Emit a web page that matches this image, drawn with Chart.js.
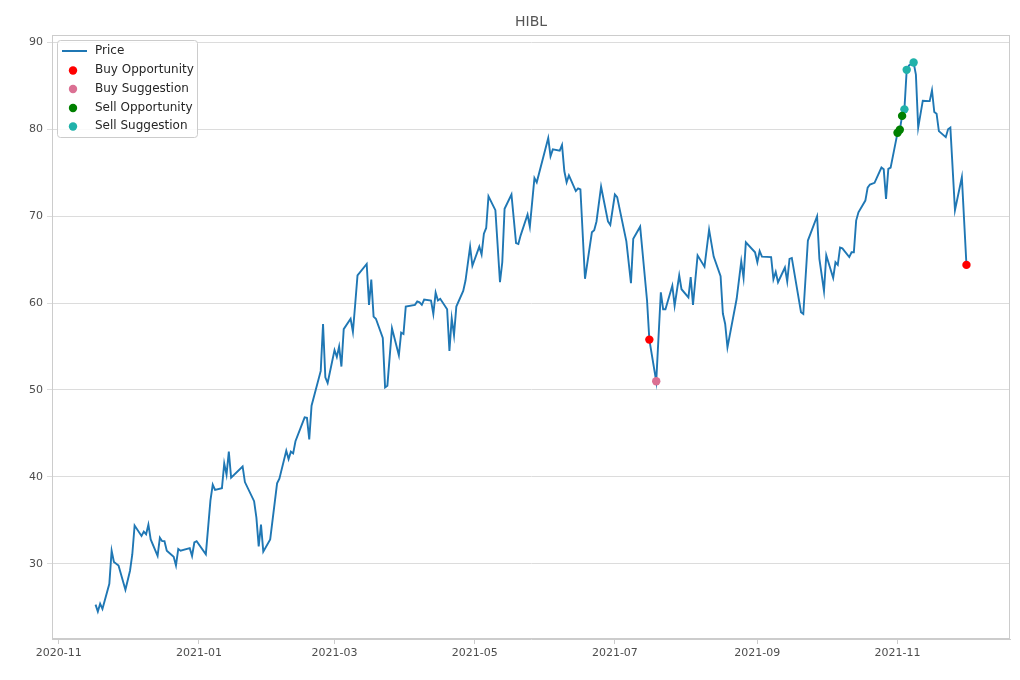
<!DOCTYPE html>
<html>
<head>
<meta charset="utf-8">
<script src="https://cdn.jsdelivr.net/npm/chart.js@4/dist/chart.umd.min.js"></script>
<style>
html,body{margin:0;padding:0;background:#fff;}
#wrap{width:1020px;height:680px;}
</style>
</head>
<body>
<div id="wrap"><canvas id="c" width="1020" height="680"></canvas></div>
<script>
const title = 'HIBL';
const dates = ['2020-11-17','2020-11-18','2020-11-19','2020-11-20','2020-11-23','2020-11-24','2020-11-25','2020-11-27','2020-11-30',
'2020-12-02','2020-12-03','2020-12-04','2020-12-07','2020-12-08','2020-12-09','2020-12-10','2020-12-11','2020-12-14','2020-12-15','2020-12-16','2020-12-17','2020-12-18','2020-12-21','2020-12-22','2020-12-23','2020-12-24','2020-12-28','2020-12-29','2020-12-30','2020-12-31',
'2021-01-04','2021-01-06','2021-01-07','2021-01-08','2021-01-11','2021-01-12','2021-01-13','2021-01-14','2021-01-15','2021-01-20','2021-01-21','2021-01-25','2021-01-26','2021-01-27','2021-01-28','2021-01-29',
'2021-02-01','2021-02-04','2021-02-05','2021-02-08','2021-02-09','2021-02-10','2021-02-11','2021-02-12','2021-02-16','2021-02-17','2021-02-18','2021-02-19','2021-02-23','2021-02-24','2021-02-25','2021-02-26',
'2021-03-01','2021-03-02','2021-03-03','2021-03-04','2021-03-05','2021-03-08','2021-03-09','2021-03-10','2021-03-11','2021-03-15','2021-03-16','2021-03-17','2021-03-18','2021-03-19','2021-03-22','2021-03-23','2021-03-24','2021-03-26','2021-03-29','2021-03-30','2021-03-31',
'2021-04-01','2021-04-05','2021-04-06','2021-04-07','2021-04-08','2021-04-09','2021-04-12','2021-04-13','2021-04-14','2021-04-15','2021-04-16','2021-04-19','2021-04-20','2021-04-21','2021-04-22','2021-04-23','2021-04-26','2021-04-27','2021-04-29','2021-04-30',
'2021-05-03','2021-05-04','2021-05-05','2021-05-06','2021-05-07','2021-05-10','2021-05-12','2021-05-13','2021-05-14','2021-05-17','2021-05-19','2021-05-20','2021-05-21','2021-05-24','2021-05-25','2021-05-27','2021-05-28',
'2021-06-02','2021-06-03','2021-06-04','2021-06-07','2021-06-08','2021-06-09','2021-06-10','2021-06-11','2021-06-14','2021-06-15','2021-06-16','2021-06-18','2021-06-21','2021-06-22','2021-06-23','2021-06-25','2021-06-28','2021-06-29',
'2021-07-01','2021-07-02','2021-07-06','2021-07-08','2021-07-09','2021-07-12','2021-07-15','2021-07-16','2021-07-19','2021-07-21','2021-07-22','2021-07-23','2021-07-26','2021-07-27','2021-07-29','2021-07-30',
'2021-08-02','2021-08-03','2021-08-04','2021-08-06','2021-08-09','2021-08-11','2021-08-13','2021-08-16','2021-08-17','2021-08-18','2021-08-19','2021-08-23','2021-08-25','2021-08-26','2021-08-27','2021-08-31',
'2021-09-01','2021-09-02','2021-09-03','2021-09-07','2021-09-08','2021-09-09','2021-09-10','2021-09-13','2021-09-14','2021-09-15','2021-09-16','2021-09-20','2021-09-21','2021-09-23','2021-09-27','2021-09-28','2021-09-30',
'2021-10-01','2021-10-04','2021-10-05','2021-10-06','2021-10-07','2021-10-08','2021-10-11','2021-10-12','2021-10-13','2021-10-14','2021-10-15','2021-10-18','2021-10-19','2021-10-20','2021-10-22','2021-10-25','2021-10-26','2021-10-27','2021-10-28','2021-10-29',
'2021-11-01','2021-11-02','2021-11-03','2021-11-04','2021-11-05','2021-11-06','2021-11-08','2021-11-09','2021-11-10','2021-11-12','2021-11-15','2021-11-16','2021-11-17','2021-11-18','2021-11-19','2021-11-22','2021-11-23','2021-11-24','2021-11-26','2021-11-29',
'2021-12-01'];
const prices = [25.3,24.5,25.4,24.8,27.7,31.5,30.2,29.8,27.0,
29.2,31.1,34.4,33.2,33.7,33.4,34.5,32.8,30.9,33.0,32.6,32.6,31.5,30.8,29.8,31.7,31.5,31.8,30.9,32.45,32.6,
31.1,37.3,39.1,38.5,38.7,41.55,40.25,42.9,39.9,41.2,39.4,37.2,35.3,32.0,34.5,31.4,
32.8,39.25,39.8,43.0,42.05,42.9,42.7,44.1,46.85,46.8,44.3,48.2,52.2,57.6,51.45,50.8,
54.6,53.8,55.0,52.7,57.0,58.2,56.7,59.9,63.2,64.5,59.8,62.7,58.45,58.2,56.0,50.3,50.5,57.1,54.0,56.6,56.45,
59.6,59.8,60.2,60.1,59.8,60.4,60.3,58.75,61.2,60.3,60.5,59.3,54.5,58.25,56.3,59.6,61.4,62.6,66.5,64.3,
66.5,65.6,68.0,68.65,72.3,70.7,62.4,64.7,70.85,72.5,66.9,66.8,67.8,70.2,68.8,74.4,73.9,
79.0,76.9,77.7,77.55,78.2,75.2,73.9,74.7,72.9,73.2,73.1,62.8,68.15,68.4,69.4,73.4,69.4,69.0,
72.5,72.2,67.1,62.3,67.4,68.8,60.3,55.8,51.0,61.25,59.3,59.3,62.0,59.7,63.2,61.6,
60.65,63.0,59.8,65.5,64.2,68.45,65.35,63.1,58.8,57.6,54.9,60.5,64.8,62.9,67.0,65.85,
64.7,66.0,65.35,65.3,62.75,63.6,62.4,64.1,62.5,65.1,65.2,58.95,58.75,67.2,70.0,65.1,61.4,
65.5,62.9,64.7,64.4,66.4,66.3,65.3,65.85,65.85,69.5,70.45,71.8,73.3,73.65,73.85,75.6,75.4,72.0,75.45,75.6,
79.6,79.95,81.55,82.3,86.85,87.35,87.7,86.3,80.2,83.3,83.25,84.5,82.0,81.8,79.8,79.1,80.0,80.2,70.7,74.5,
64.4];

const buyOppDates = ['2021-07-16','2021-12-01'];
const buyOppPrices = [55.8,64.4];
const buySugDates = ['2021-07-19'];
const buySugPrices = [51.0];
const sellOppDates = ['2021-11-01','2021-11-02','2021-11-03'];
const sellOppPrices = [79.6,79.95,81.55];
const sellSugDates = ['2021-11-04','2021-11-05','2021-11-08'];
const sellSugPrices = [82.3,86.85,87.7];

const xTickDates = ['2020-11-01','2021-01-01','2021-03-01','2021-05-01','2021-07-01','2021-09-01','2021-11-01'];
const yTicks = [30,40,50,60,70,80,90];

const seriesNames = ['Price','Buy Opportunity','Buy Suggestion','Sell Opportunity','Sell Suggestion'];
const seriesColors = ['#1f77b4','#ff0000','#db7093','#008000','#20b2aa'];

// ---- helpers ----
const EPOCH = Date.UTC(2020,10,1);
function dayNum(s){ const p=s.split('-').map(Number); return (Date.UTC(p[0],p[1]-1,p[2])-EPOCH)/864e5; }
function dayLabel(v){ const d=new Date(EPOCH+v*864e5); return d.getUTCFullYear()+'-'+String(d.getUTCMonth()+1).padStart(2,'0'); }
function pts(ds,ps){ return ds.map((d,i)=>({x:dayNum(d),y:ps[i]})); }

const xs = dates.map(dayNum);
const xMin0 = Math.min(...xs), xMax0 = Math.max(...xs);
const yMin0 = Math.min(...prices), yMax0 = Math.max(...prices);
const xr = xMax0-xMin0, yr = yMax0-yMin0;

Chart.defaults.font.family = "'DejaVu Sans', sans-serif";

const frameLegend = {
  id:'frameLegend',
  afterDraw(chart){
    const ctx = chart.ctx, a = chart.chartArea;
    ctx.save();
    ctx.strokeStyle = '#cccccc'; ctx.lineWidth = 1;
    ctx.strokeRect(Math.round(a.left)+0.5, Math.round(a.top)+0.5, Math.round(a.right-a.left)-1, Math.round(a.bottom-a.top)-1);
    // title, centred over the plot area
    ctx.fillStyle = '#555555'; ctx.font = "14px 'DejaVu Sans'";
    ctx.textAlign = 'center'; ctx.textBaseline = 'middle';
    ctx.fillText(title, (a.left+a.right)/2, 22);
    // legend
    const lx = a.left+5.5, ly = a.top+5.5, lw = 140, lh = 97, r = 3;
    ctx.beginPath();
    ctx.moveTo(lx+r,ly); ctx.lineTo(lx+lw-r,ly); ctx.quadraticCurveTo(lx+lw,ly,lx+lw,ly+r);
    ctx.lineTo(lx+lw,ly+lh-r); ctx.quadraticCurveTo(lx+lw,ly+lh,lx+lw-r,ly+lh);
    ctx.lineTo(lx+r,ly+lh); ctx.quadraticCurveTo(lx,ly+lh,lx,ly+lh-r);
    ctx.lineTo(lx,ly+r); ctx.quadraticCurveTo(lx,ly,lx+r,ly); ctx.closePath();
    ctx.fillStyle = 'rgba(255,255,255,0.85)'; ctx.fill();
    ctx.strokeStyle = '#cccccc'; ctx.lineWidth = 1; ctx.stroke();
    ctx.font = "12px 'DejaVu Sans'"; ctx.textBaseline = 'middle'; ctx.textAlign = 'left';
    const rowY = [51,70,88.5,107.5,126];
    seriesNames.forEach((n,i)=>{
      const y = rowY[i];
      if(i===0){
        ctx.strokeStyle = seriesColors[0]; ctx.lineWidth = 2;
        ctx.beginPath(); ctx.moveTo(62,y); ctx.lineTo(87,y); ctx.stroke();
      } else {
        ctx.fillStyle = seriesColors[i];
        ctx.beginPath(); ctx.arc(73,y+0.5,4.2,0,Math.PI*2); ctx.fill();
      }
      ctx.fillStyle = '#262626';
      ctx.fillText(n, 95, y);
    });
    ctx.restore();
  }
};

function scatterDs(i, ds, ps){
  return {label:seriesNames[i], data:pts(ds,ps), showLine:false, pointRadius:4.2, pointHoverRadius:4.2,
    pointBackgroundColor:seriesColors[i], pointBorderColor:seriesColors[i], pointBorderWidth:0, order:0};
}

new Chart(document.getElementById('c').getContext('2d'), {
  type:'line',
  data:{datasets:[
    scatterDs(1,buyOppDates,buyOppPrices),
    scatterDs(2,buySugDates,buySugPrices),
    scatterDs(3,sellOppDates,sellOppPrices),
    scatterDs(4,sellSugDates,sellSugPrices),
    {label:seriesNames[0], data:pts(dates,prices), borderColor:seriesColors[0], borderWidth:1.9, pointRadius:0, tension:0, fill:false, order:10}
  ]},
  options:{
    responsive:false, animation:false, events:[],
    layout:{padding:{top:35,right:10,bottom:0,left:0}},
    plugins:{
      legend:{display:false}, tooltip:{enabled:false}, title:{display:false}
    },
    scales:{
      x:{type:'linear', min:xMin0-0.05*xr, max:xMax0+0.05*xr,
        afterBuildTicks(s){ s.ticks = xTickDates.map(d=>({value:dayNum(d)})); },
        afterFit(s){ s.height = 41; },
        ticks:{autoSkip:false, maxRotation:0, color:'#4d4d4d', font:{size:11}, padding:3, callback:(v)=>dayLabel(v)},
        grid:{drawOnChartArea:false, drawTicks:true, tickLength:5, color:'#cccccc'},
        border:{color:'#cccccc'}
      },
      y:{type:'linear', min:yMin0-0.05*yr, max:yMax0+0.05*yr,
        afterBuildTicks(s){ s.ticks = yTicks.map(v=>({value:v})); },
        afterFit(s){ s.width = 52; },
        ticks:{color:'#4d4d4d', font:{size:11}, padding:4, callback:(v)=>String(v)},
        grid:{color:'#dcdcdc', drawTicks:true, tickLength:5},
        border:{color:'#cccccc'}
      }
    }
  },
  plugins:[frameLegend]
});
</script>
</body>
</html>
